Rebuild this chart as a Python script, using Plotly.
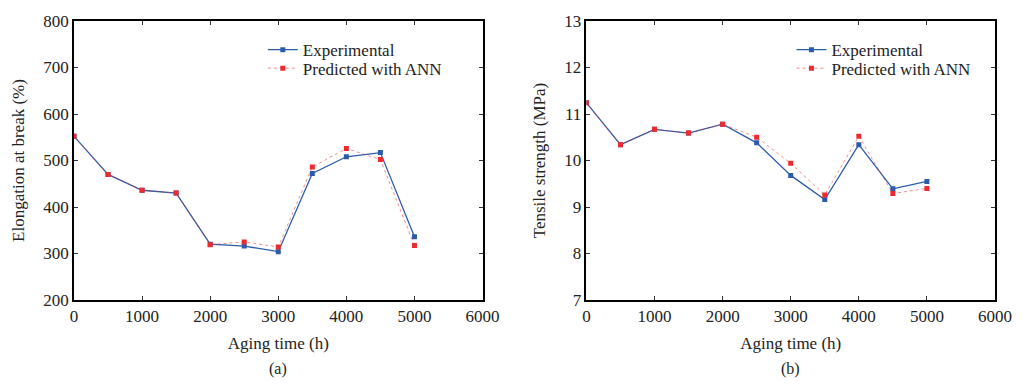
import plotly.graph_objects as go
from plotly.subplots import make_subplots

aging_time = [0, 500, 1000, 1500, 2000, 2500, 3000, 3500, 4000, 4500, 5000]
elong_exp = [552, 470, 436, 430, 320, 316, 304, 472, 508, 517, 336]
elong_ann = [552, 470, 436, 430, 319, 325, 314, 486, 526, 502, 317]
tensile_exp = [11.24, 10.34, 10.67, 10.59, 10.78, 10.38, 9.68, 9.16, 10.34, 9.39, 9.55]
tensile_ann = [11.24, 10.34, 10.67, 10.59, 10.78, 10.50, 9.94, 9.26, 10.52, 9.29, 9.40]

BLUE = "#2a5caa"
RED = "#ec2a2f"
FONT = "Liberation Serif"
TXT = "#222"

fig = make_subplots(rows=1, cols=2, horizontal_spacing=0.1128)

def add_pair(col, yexp, yann, leg_exp, leg_ann):
    fig.add_trace(go.Scatter(
        x=aging_time, y=yexp, mode="lines+markers", name="Experimental",
        line=dict(color=BLUE, width=1.3),
        marker=dict(symbol="square", size=5, color=BLUE),
        showlegend=True, legend=leg_exp), row=1, col=col)
    fig.add_trace(go.Scatter(
        x=aging_time, y=yann, mode="lines+markers", name="Predicted with ANN",
        line=dict(color="rgba(236,42,47,0.55)", width=1, dash="dot"),
        marker=dict(symbol="square", size=5, color=RED),
        showlegend=True, legend=leg_ann), row=1, col=col)

add_pair(1, elong_exp, elong_ann, "legend", "legend2")
add_pair(2, tensile_exp, tensile_ann, "legend3", "legend4")

axis_common = dict(showline=True, linecolor="black", linewidth=1.5, mirror="ticks",
                   ticks="inside", ticklen=4, tickcolor="#333", showgrid=False,
                   zeroline=False, tickfont=dict(family=FONT, size=17, color=TXT))
title_font = dict(family=FONT, size=17, color=TXT)

fig.update_xaxes(range=[0, 6000], dtick=1000, **axis_common)
fig.update_xaxes(title=dict(text="Aging time (h)", font=title_font, standoff=12))
fig.update_yaxes(**axis_common)
fig.update_yaxes(range=[200, 800], dtick=100, row=1, col=1,
                 title=dict(text="Elongation at break (%)", font=title_font, standoff=14))
fig.update_yaxes(range=[7, 13], dtick=1, row=1, col=2,
                 title=dict(text="Tensile strength (MPa)", font=title_font, standoff=14))

legend_common = dict(font=dict(family=FONT, size=17, color=TXT), bgcolor="rgba(0,0,0,0)",
                     itemwidth=30, xanchor="left", yanchor="middle", visible=True)
fig.update_layout(
    width=1024, height=384,
    showlegend=True,
    margin=dict(l=74, r=19, t=13, b=84),
    plot_bgcolor="white", paper_bgcolor="white",
    legend=dict(x=0.205, y=0.8955, **legend_common),
    legend2=dict(x=0.205, y=0.8293, **legend_common),
    legend3=dict(x=0.779, y=0.8955, **legend_common),
    legend4=dict(x=0.779, y=0.8293, **legend_common),
)

for label, xc in [("(a)", 0.2218), ("(b)", 0.7782)]:
    fig.add_annotation(text=label, x=xc, y=-0.2474, xref="paper", yref="paper",
                       xanchor="center", yanchor="middle", showarrow=False,
                       font=dict(family=FONT, size=16, color=TXT))

fig.write_html("out.html")
